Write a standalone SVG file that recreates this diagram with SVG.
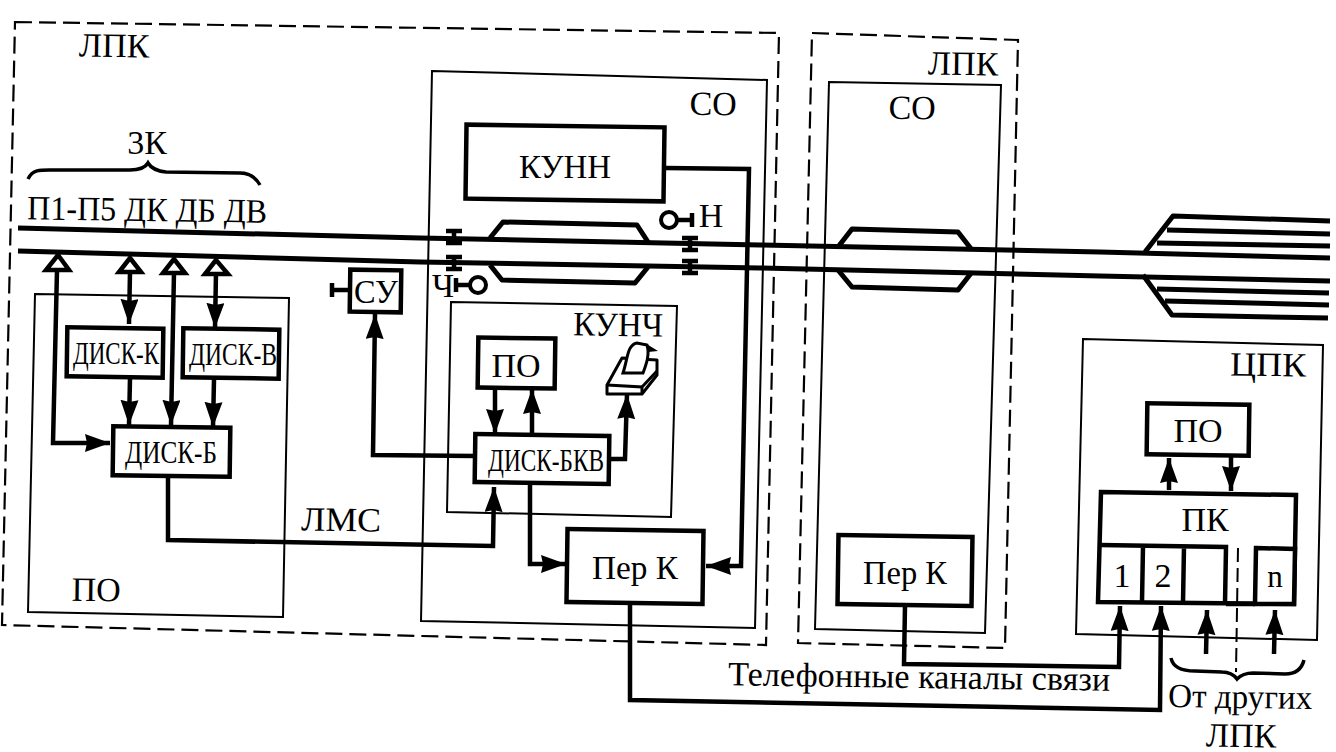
<svg xmlns="http://www.w3.org/2000/svg" width="1336" height="752" viewBox="0 0 1336 752">
<style>
text{font-family:"Liberation Serif","Times New Roman",serif;fill:#000;text-anchor:middle}
.l{font-size:34px}.m{font-size:31px}.s{font-size:31px}
.box{fill:#fff;stroke:#000;stroke-width:4.5}
.frame{fill:none;stroke:#000;stroke-width:2}
.dash{fill:none;stroke:#000;stroke-width:2.2;stroke-dasharray:17 7}
.w{fill:none;stroke:#000;stroke-width:4.5;stroke-linejoin:miter}
.t{fill:none;stroke:#000;stroke-width:5;stroke-linejoin:round}
.a{marker-end:url(#ah)}
.tri{fill:#fff;stroke:#000;stroke-width:4.5}
.thin{fill:none;stroke:#000;stroke-width:4}
</style>
<defs>
<marker id="ah" markerUnits="userSpaceOnUse" markerWidth="28" markerHeight="20" refX="25" refY="9" orient="auto"><path d="M0 0L25 9L0 18L2 9Z" fill="#000"/></marker>
</defs>
<rect width="1336" height="752" fill="#fff"/>

<g id="frames">
<path class="dash" d="M15 22L779 33L766 645L2 625Z"/>
<path class="dash" d="M812 33L1018 40L1005 648L798 643Z"/>
<path class="frame" d="M432 71L767 80L755 628L421 621Z"/>
<path class="frame" d="M829 82L1001 85L985 633L815 629Z"/>
<path class="frame" d="M35 294L289 298L283 617L28 612Z"/>
<path class="frame" d="M451 302L677 306L671 517L447 512Z"/>
<path class="frame" d="M1083 339L1323 345L1317 640L1076 634Z"/>
</g>

<g id="connectors">
<path class="t" d="M18 228L420 238L760 245L1100 252L1330 258"/>
<path class="t" d="M18 251L420 262L760 268L1100 276L1330 281"/>
<path class="t" d="M490 238L503 222L637 225L648 242"/>
<path class="t" d="M490 265L502 280L635 283L648 267"/>
<path class="t" d="M838 247L852 229L958 232L972 250"/>
<path class="t" d="M838 270L852 287L958 290L972 272"/>
<path class="t" d="M1145 252L1173 216L1330 221"/>
<path class="t" d="M1167 230L1330 234"/>
<path class="t" d="M1157 243L1330 246"/>
<path class="t" d="M1143 275L1172 315L1328 318"/>
<path class="t" d="M1157 289L1329 293"/>
<path class="t" d="M1165 301L1329 305"/>

<path class="w a" d="M57 270L53 443L110 443"/>
<path class="w a" d="M130 272L129 324"/>
<path class="w a" d="M174 272L171 425"/>
<path class="w a" d="M216 272L215 328"/>
<path class="w a" d="M130 378L129 425"/>
<path class="w a" d="M214 379L213 427"/>
<path class="w a" d="M168 476L168 540L493 546L494 487"/>
<path class="w a" d="M475 456L373 455L375 314"/>
<path class="w a" d="M495 389L495 434"/>
<path class="w a" d="M532 434L532 389"/>
<path class="w a" d="M611 459L625 459L627 394"/>
<path class="w a" d="M530 484L530 564L566 564"/>
<path class="w a" d="M666 168L749 169L741 566L706 566"/>
<path class="w a" d="M905 605L904 664L1119 667L1120 606"/>
<path class="w a" d="M630 604L630 700L1160 710L1161 606"/>
<path class="w a" d="M1169 490L1169 458"/>
<path class="w a" d="M1231 455L1231 491"/>
<path class="w a" d="M1206 654L1207 610"/>
<path class="w a" d="M1274 654L1275 610"/>
</g>

<g id="taps">
<path class="tri" d="M58 255L46 270L69 270Z"/>
<path class="tri" d="M130 258L119 272L141 272Z"/>
<path class="tri" d="M174 259L163 273L185 273Z"/>
<path class="tri" d="M216 260L205 274L228 274Z"/>
</g>

<g id="signals">
<path class="w" d="M446 231L462 231M454 231L454 243M446 243L462 243"/>
<path class="w" d="M446 257L462 257M454 257L454 269M446 269L462 269"/>
<path class="w" d="M682 238L698 238M690 238L690 250M682 250L698 250"/>
<path class="w" d="M682 261L698 261M690 261L690 273M682 273L698 273"/>
<circle class="thin" cx="669" cy="220" r="8"/>
<path class="w" d="M677 220L694 220M692 213L692 227"/>
<circle class="thin" cx="478" cy="285" r="8"/>
<path class="w" d="M470 285L457 285M456 278L456 292"/>
</g>

<g id="brace-zk"><path class="w" style="stroke-width:3.5" d="M28 179C33 168 42 170 60 170L130 170C140 170 145 168 148 163C151 168 156 171 166 172L240 173C250 173 256 178 260 185"/></g>
<g id="brace-other"><path class="w" style="stroke-width:3.5" d="M1171 658C1173 668 1182 671 1195 671L1222 672C1230 672 1234 675 1237 679C1241 675 1245 673 1253 673L1285 674C1297 674 1302 668 1304 660"/></g>

<g id="label-lpk1"><text class="l" x="114" y="57" transform="rotate(.8 114 57)">ЛПК</text></g>
<g id="label-so1"><text class="l" x="713" y="115" transform="rotate(.8 713 115)">СО</text></g>
<g id="label-lpk2"><text class="l" x="963" y="75" transform="rotate(.8 963 75)">ЛПК</text></g>
<g id="label-so2"><text class="l" x="912" y="119" transform="rotate(.8 912 119)">СО</text></g>
<g id="label-zk"><text class="l" x="147" y="154">3К</text></g>
<g id="label-buses"><text class="l" x="147" y="221" transform="rotate(.8 147 221)" textLength="240" lengthAdjust="spacingAndGlyphs">П1-П5 ДК ДБ ДВ</text></g>
<g id="label-h"><text class="l" x="711" y="227">Н</text></g>
<g id="label-ch"><text class="l" x="443" y="297">Ч</text></g>
<g id="label-lms"><text class="l" x="341" y="531" transform="rotate(.8 341 531)" textLength="80" lengthAdjust="spacingAndGlyphs">ЛМС</text></g>
<g id="label-po"><text class="l" x="96" y="601" transform="rotate(.8 96 601)">ПО</text></g>
<g id="label-kunch"><text class="l" x="618" y="336" transform="rotate(.8 618 336)" textLength="90" lengthAdjust="spacingAndGlyphs">КУНЧ</text></g>
<g id="label-cpk"><text class="l" x="1268" y="376" transform="rotate(.8 1268 376)" textLength="76" lengthAdjust="spacingAndGlyphs">ЦПК</text></g>
<g id="label-tel"><text class="l" x="919" y="688" transform="rotate(.8 919 688)" textLength="382" lengthAdjust="spacingAndGlyphs">Телефонные каналы связи</text></g>
<g id="label-other"><text class="l" x="1240" y="708" transform="rotate(.8 1240 708)" textLength="144" lengthAdjust="spacingAndGlyphs">От других</text><text class="l" x="1241" y="747" transform="rotate(.8 1241 747)">ЛПК</text></g>

<g id="su"><rect class="box" x="350" y="270" width="51" height="42" transform="rotate(.8 375 291)"/><path class="w" d="M350 290L333 290M332 283L332 297"/><text class="l" x="376" y="303" textLength="44" lengthAdjust="spacingAndGlyphs">СУ</text></g>
<g id="disk-k"><rect class="box" x="67" y="328" width="96" height="49" transform="rotate(.8 115 352)"/><text class="s" x="116" y="364" textLength="86" lengthAdjust="spacingAndGlyphs">ДИСК-К</text></g>
<g id="disk-v"><rect class="box" x="183" y="329" width="96" height="49" transform="rotate(.8 231 353)"/><text class="s" x="233" y="365" textLength="88" lengthAdjust="spacingAndGlyphs">ДИСК-В</text></g>
<g id="disk-b"><rect class="box" x="113" y="427" width="117" height="49" transform="rotate(.8 171 451)"/><text class="s" x="171" y="463" textLength="92" lengthAdjust="spacingAndGlyphs">ДИСК-Б</text></g>
<g id="kunn"><rect class="box" x="466" y="126" width="198" height="74" transform="rotate(.8 565 163)"/><text class="l" x="565" y="178" textLength="92" lengthAdjust="spacingAndGlyphs">КУНН</text></g>
<g id="po-kunch"><rect class="box" x="478" y="338" width="77" height="50" transform="rotate(.8 516 363)"/><text class="l" x="516" y="377">ПО</text></g>
<g id="disk-bkv"><rect class="box" x="475" y="435" width="134" height="48" transform="rotate(.8 542 459)"/><text class="s" x="546" y="471" textLength="116" lengthAdjust="spacingAndGlyphs">ДИСК-БКВ</text></g>
<g id="printer">
<path d="M607 385L622 358L657 360L657 375L642 394L607 394Z" fill="#fff" stroke="#000" stroke-width="3" stroke-linejoin="round"/>
<path d="M607 385L642 387L642 394M642 387L657 371" fill="none" stroke="#000" stroke-width="3"/>
<path d="M623 373C628 358 627 345 637 343L647 345C650 355 646 365 643 373Z" fill="#fff" stroke="#000" stroke-width="3"/>
<path d="M645 343L658 351L648 352Z" fill="#000"/>
</g>
<g id="per-k1"><rect class="box" x="567" y="530" width="136" height="73" transform="rotate(.8 635 566)"/><text class="l" x="635" y="579" textLength="86" lengthAdjust="spacingAndGlyphs">Пер К</text></g>
<g id="per-k2"><rect class="box" x="838" y="536" width="134" height="69" transform="rotate(.8 905 570)"/><text class="l" x="905" y="584" textLength="84" lengthAdjust="spacingAndGlyphs">Пер К</text></g>
<g id="po-cpk"><rect class="box" x="1147" y="404" width="102" height="51" transform="rotate(.8 1198 429)"/><text class="l" x="1198" y="442">ПО</text></g>
<g id="pk">
<path class="w" style="fill:#fff" d="M1101 492L1296 495L1294 604L1098 602Z"/>
<text class="l" x="1205" y="531">ПК</text>
</g>
<g id="pk-ports">
<path class="w" d="M1100 545L1226 547L1225 604M1143 546L1142 602M1184 546L1183 603"/>
<path class="w" style="fill:#fff" d="M1256 548L1295 549L1294 604L1255 604Z"/>
<path d="M1226 604L1255 604" class="w"/>
<text class="l" x="1122" y="587">1</text>
<text class="l" x="1163" y="587">2</text>
<text class="m" x="1275" y="587">n</text>
<path d="M1238 548L1236 672" fill="none" stroke="#000" stroke-width="2" stroke-dasharray="14 6"/>
</g>
</svg>
